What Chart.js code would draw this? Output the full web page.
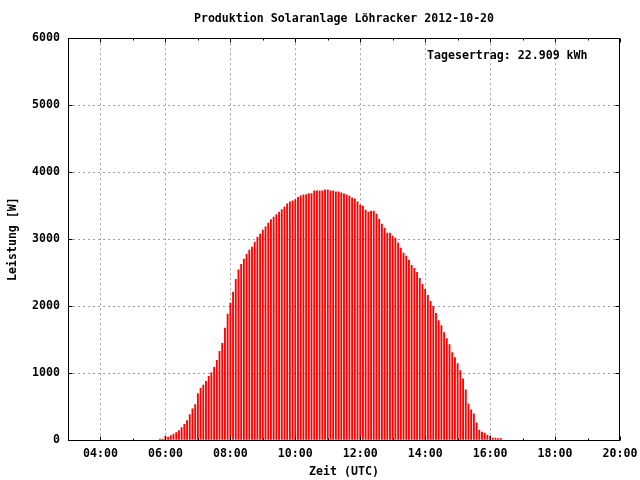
<!DOCTYPE html>
<html>
<head>
<meta charset="utf-8">
<script src="https://cdn.jsdelivr.net/npm/chart.js@4.4.1/dist/chart.umd.min.js"></script>
<style>
  html, body { margin: 0; padding: 0; background: #fff; }
  #wrap { width: 640px; height: 480px; }
</style>
</head>
<body>
<div id="wrap"><canvas id="solar-chart"></canvas></div>
<script>
// Produktion 2012-10-20, 5-Minuten-Werte in Watt
const times = [
  '05:50','05:55','06:00','06:05','06:10','06:15','06:20','06:25','06:30','06:35','06:40','06:45',
  '06:50','06:55','07:00','07:05','07:10','07:15','07:20','07:25','07:30','07:35','07:40','07:45',
  '07:50','07:55','08:00','08:05','08:10','08:15','08:20','08:25','08:30','08:35','08:40','08:45',
  '08:50','08:55','09:00','09:05','09:10','09:15','09:20','09:25','09:30','09:35','09:40','09:45',
  '09:50','09:55','10:00','10:05','10:10','10:15','10:20','10:25','10:30','10:35','10:40','10:45',
  '10:50','10:55','11:00','11:05','11:10','11:15','11:20','11:25','11:30','11:35','11:40','11:45',
  '11:50','11:55','12:00','12:05','12:10','12:15','12:20','12:25','12:30','12:35','12:40','12:45',
  '12:50','12:55','13:00','13:05','13:10','13:15','13:20','13:25','13:30','13:35','13:40','13:45',
  '13:50','13:55','14:00','14:05','14:10','14:15','14:20','14:25','14:30','14:35','14:40','14:45',
  '14:50','14:55','15:00','15:05','15:10','15:15','15:20','15:25','15:30','15:35','15:40','15:45',
  '15:50','15:55','16:00','16:05','16:10','16:15','16:20'
];
const watts = [
  15, 15, 60, 45, 65, 90, 110, 140, 185, 235, 290, 380,
  465, 530, 695, 770, 820, 875, 950, 1005, 1085, 1190, 1325, 1445,
  1670, 1880, 2045, 2210, 2400, 2540, 2625, 2700, 2775, 2835, 2880, 2955,
  3030, 3075, 3135, 3185, 3240, 3290, 3330, 3365, 3405, 3440, 3480, 3525,
  3555, 3570, 3590, 3625, 3645, 3660, 3665, 3680, 3680, 3720, 3720, 3720,
  3720, 3735, 3735, 3720, 3720, 3705, 3705, 3690, 3675, 3660, 3645, 3615,
  3600, 3555, 3510, 3495, 3435, 3405, 3420, 3420, 3375, 3300, 3225, 3165,
  3090, 3090, 3045, 3015, 2940, 2865, 2790, 2745, 2685, 2610, 2565, 2505,
  2415, 2325, 2250, 2160, 2070, 1995, 1890, 1785, 1710, 1605, 1515, 1425,
  1305, 1230, 1140, 1035, 915, 750, 540, 450, 390, 255, 150, 120,
  105, 75, 60, 30, 30, 20, 20
];
const xRange = ['03:00', '20:00'];
const yTicks = [0, 1000, 2000, 3000, 4000, 5000, 6000];
const titleText = 'Produktion Solaranlage Löhracker 2012-10-20';
const yieldText = 'Tagesertrag: 22.909 kWh';

const FONT = { family: "'DejaVu Sans Mono', monospace", size: 11.6, weight: 'bold', lineHeight: 1.2 };
const GRID = '#a0a0a0';

const toMin = s => { const [h, m] = s.split(':').map(Number); return h * 60 + m; };
const fmt = v => String(Math.floor(v / 60)).padStart(2, '0') + ':' + String(v % 60).padStart(2, '0');
const xMin = toMin(xRange[0]), xMax = toMin(xRange[1]);
const yMax = yTicks[yTicks.length - 1];

// Rahmen, Tics nach innen (wie gnuplot) und Beschriftung oben rechts
const gnuplotFrame = {
    id: 'gnuplotFrame',
    afterDraw(chart) {
        const { ctx, chartArea: a, scales: { x, y } } = chart;
        const L = Math.floor(a.left) + 0.5, R = Math.round(a.right) - 0.5;
        const T = Math.floor(a.top) + 0.5, B = Math.floor(a.bottom) + 0.5;
        ctx.save();
        ctx.strokeStyle = '#000';
        ctx.lineWidth = 1;
        ctx.beginPath();
        x.ticks.forEach(t => {
            const px = Math.round(x.getPixelForValue(t.value)) + 0.5;
            const len = t.value % 120 === 0 ? 4 : 2;
            ctx.moveTo(px, B); ctx.lineTo(px, B - len);
            ctx.moveTo(px, T); ctx.lineTo(px, T + len);
        });
        y.ticks.forEach(t => {
            const py = Math.round(y.getPixelForValue(t.value)) + 0.5;
            ctx.moveTo(L, py); ctx.lineTo(L + 4, py);
            ctx.moveTo(R, py); ctx.lineTo(R - 4, py);
        });
        ctx.stroke();
        ctx.strokeRect(L, T, R - L, B - T);

        ctx.fillStyle = '#000';
        ctx.font = `bold ${FONT.size}px ${FONT.family}`;
        ctx.textBaseline = 'middle';
        ctx.textAlign = 'left';
        ctx.fillText(yieldText, 427, 56);
        ctx.restore();
    }
};

new Chart(document.getElementById('solar-chart'), {
    type: 'bar',
    data: {
        datasets: [{
            data: times.map((t, i) => ({ x: toMin(t), y: watts[i] })),
            backgroundColor: '#ff0000',
            borderWidth: 0,
            barThickness: 1.2
        }]
    },
    options: {
        responsive: true,
        maintainAspectRatio: false,
        animation: false,
        layout: { padding: { left: 0, right: 20, top: 0, bottom: 0 } },
        plugins: {
            legend: { display: false },
            tooltip: { enabled: false },
            title: {
                display: true,
                text: titleText,
                color: '#000',
                font: FONT,
                fullSize: false,
                padding: { top: 12, bottom: 12.3 }
            }
        },
        scales: {
            x: {
                type: 'linear',
                min: xMin,
                max: xMax,
                z: 1,
                offset: false,
                afterFit: s => { s.height = 40; s.paddingLeft = 0; s.paddingRight = 0; },
                ticks: {
                    stepSize: 60,
                    autoSkip: false,
                    maxRotation: 0,
                    padding: 7,
                    color: '#000',
                    font: FONT,
                    callback: v => (v % 120 === 0 ? fmt(v) : '')
                },
                grid: {
                    offset: false,
                    drawTicks: false,
                    color: c => (c.tick && c.tick.value % 120 === 0 && c.tick.value > xMin && c.tick.value < xMax) ? GRID : 'rgba(0,0,0,0)'
                },
                border: { display: false, dash: [2, 3] },
                title: {
                    display: true,
                    text: 'Zeit (UTC)',
                    color: '#000',
                    font: FONT,
                    padding: { top: 0, bottom: 1 }
                }
            },
            y: {
                min: 0,
                max: yMax,
                z: 1,
                afterFit: s => { s.width = 68; },
                afterBuildTicks: s => { s.ticks = yTicks.map(v => ({ value: v })); },
                ticks: {
                    padding: 8,
                    color: '#000',
                    font: FONT,
                    callback: v => String(v)
                },
                grid: {
                    drawTicks: false,
                    color: c => (c.tick && c.tick.value > 0 && c.tick.value < yMax) ? GRID : 'rgba(0,0,0,0)'
                },
                border: { display: false, dash: [2, 3] },
                title: {
                    display: true,
                    text: 'Leistung [W]',
                    color: '#000',
                    font: FONT,
                    padding: { top: 6, bottom: 0 }
                }
            }
        }
    },
    plugins: [gnuplotFrame]
});
</script>
</body>
</html>
